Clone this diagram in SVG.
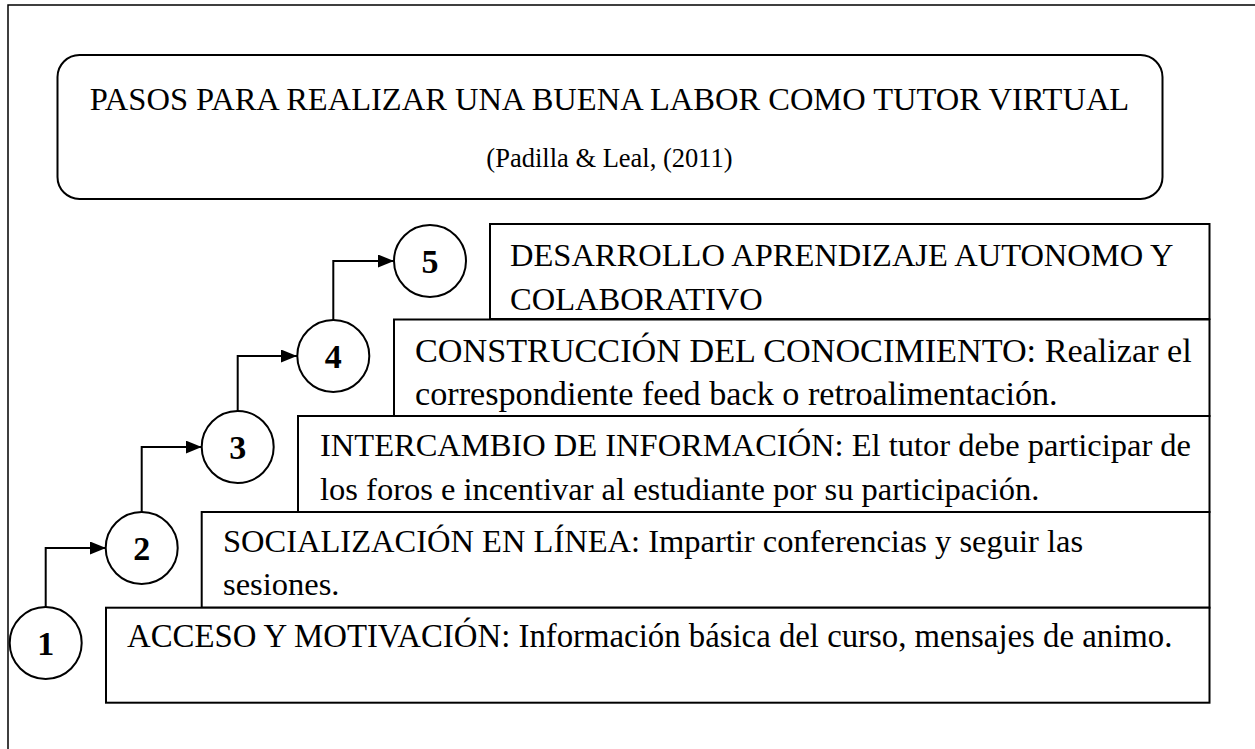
<svg xmlns="http://www.w3.org/2000/svg" width="1255" height="749" viewBox="0 0 1255 749">
<style>
.frame{fill:none;stroke:#000;stroke-width:1.5}
.box{fill:#fff;stroke:#000;stroke-width:2}
.circ{fill:#fff;stroke:#000;stroke-width:2}
.conn{fill:none;stroke:#000;stroke-width:2}
.t{font-family:"Liberation Serif","Times New Roman",serif;font-size:32.5px;fill:#000}
.t4{font-size:34.2px}
.t1{font-size:32.8px}
.title{font-family:"Liberation Serif","Times New Roman",serif;font-size:32.5px;fill:#000;text-anchor:middle}
.sub{font-family:"Liberation Serif","Times New Roman",serif;font-size:26.5px;fill:#000;text-anchor:middle}
.num{font-family:"Liberation Serif","Times New Roman",serif;font-size:34px;font-weight:bold;fill:#000;text-anchor:middle}
</style>
<defs>
<marker id="arr" markerUnits="userSpaceOnUse" markerWidth="17" markerHeight="14" refX="16" refY="6.5" orient="auto">
<path d="M0,0 L16,6.5 L0,13 Z" fill="#000"/>
</marker>
</defs>
<rect width="1255" height="749" fill="#fff"/>
<path class="frame" d="M8,749 V5 H1255"/>
<g id="title">
<rect class="box" x="57.5" y="55" width="1105" height="144" rx="22" ry="22"/>
<text class="title" x="609.5" y="110">PASOS PARA REALIZAR UNA BUENA LABOR COMO TUTOR VIRTUAL</text>
<text class="sub" x="609.5" y="167">(Padilla &amp; Leal, (2011)</text>
</g>
<g id="box5">
<rect class="box" x="490" y="224" width="719.5" height="95"/>
<text class="t" x="510" y="266">DESARROLLO APRENDIZAJE AUTONOMO Y</text>
<text class="t" x="510" y="310">COLABORATIVO</text>
</g>
<g id="box4">
<rect class="box" x="394" y="319.5" width="815.5" height="96.5"/>
<text class="t t4" x="415" y="361.5">CONSTRUCCIÓN DEL CONOCIMIENTO: Realizar el</text>
<text class="t t4" x="415" y="404.5">correspondiente feed back o retroalimentación.</text>
</g>
<g id="box3">
<rect class="box" x="298" y="416" width="911.5" height="96"/>
<text class="t" x="320" y="456">INTERCAMBIO DE INFORMACIÓN: El tutor debe participar de</text>
<text class="t" x="320" y="499.5">los foros e incentivar al estudiante por su participación.</text>
</g>
<g id="box2">
<rect class="box" x="201.7" y="512" width="1007.8" height="95.7"/>
<text class="t" x="223" y="551.7">SOCIALIZACIÓN EN LÍNEA: Impartir conferencias y seguir las</text>
<text class="t" x="223" y="594.5">sesiones.</text>
</g>
<g id="box1">
<rect class="box" x="106" y="607.7" width="1103.5" height="95"/>
<text class="t t1" x="127" y="646.7">ACCESO Y MOTIVACIÓN: Información básica del curso, mensajes de animo.</text>
</g>
<g id="connectors">
<path class="conn" d="M45.7,607 V548 H106" marker-end="url(#arr)"/>
<path class="conn" d="M141.7,512 V447 H201.7" marker-end="url(#arr)"/>
<path class="conn" d="M237.7,411 V356 H297" marker-end="url(#arr)"/>
<path class="conn" d="M333.3,320 V261 H394" marker-end="url(#arr)"/>
</g>
<g id="n1"><circle class="circ" cx="45.7" cy="643" r="36"/><text class="num" x="45.7" y="655">1</text></g>
<g id="n2"><circle class="circ" cx="141.7" cy="548" r="36"/><text class="num" x="141.7" y="560">2</text></g>
<g id="n3"><circle class="circ" cx="237.7" cy="447" r="36"/><text class="num" x="237.7" y="459">3</text></g>
<g id="n4"><circle class="circ" cx="333.3" cy="356" r="36"/><text class="num" x="333.3" y="368">4</text></g>
<g id="n5"><circle class="circ" cx="430" cy="261" r="36"/><text class="num" x="430" y="273">5</text></g>
</svg>
